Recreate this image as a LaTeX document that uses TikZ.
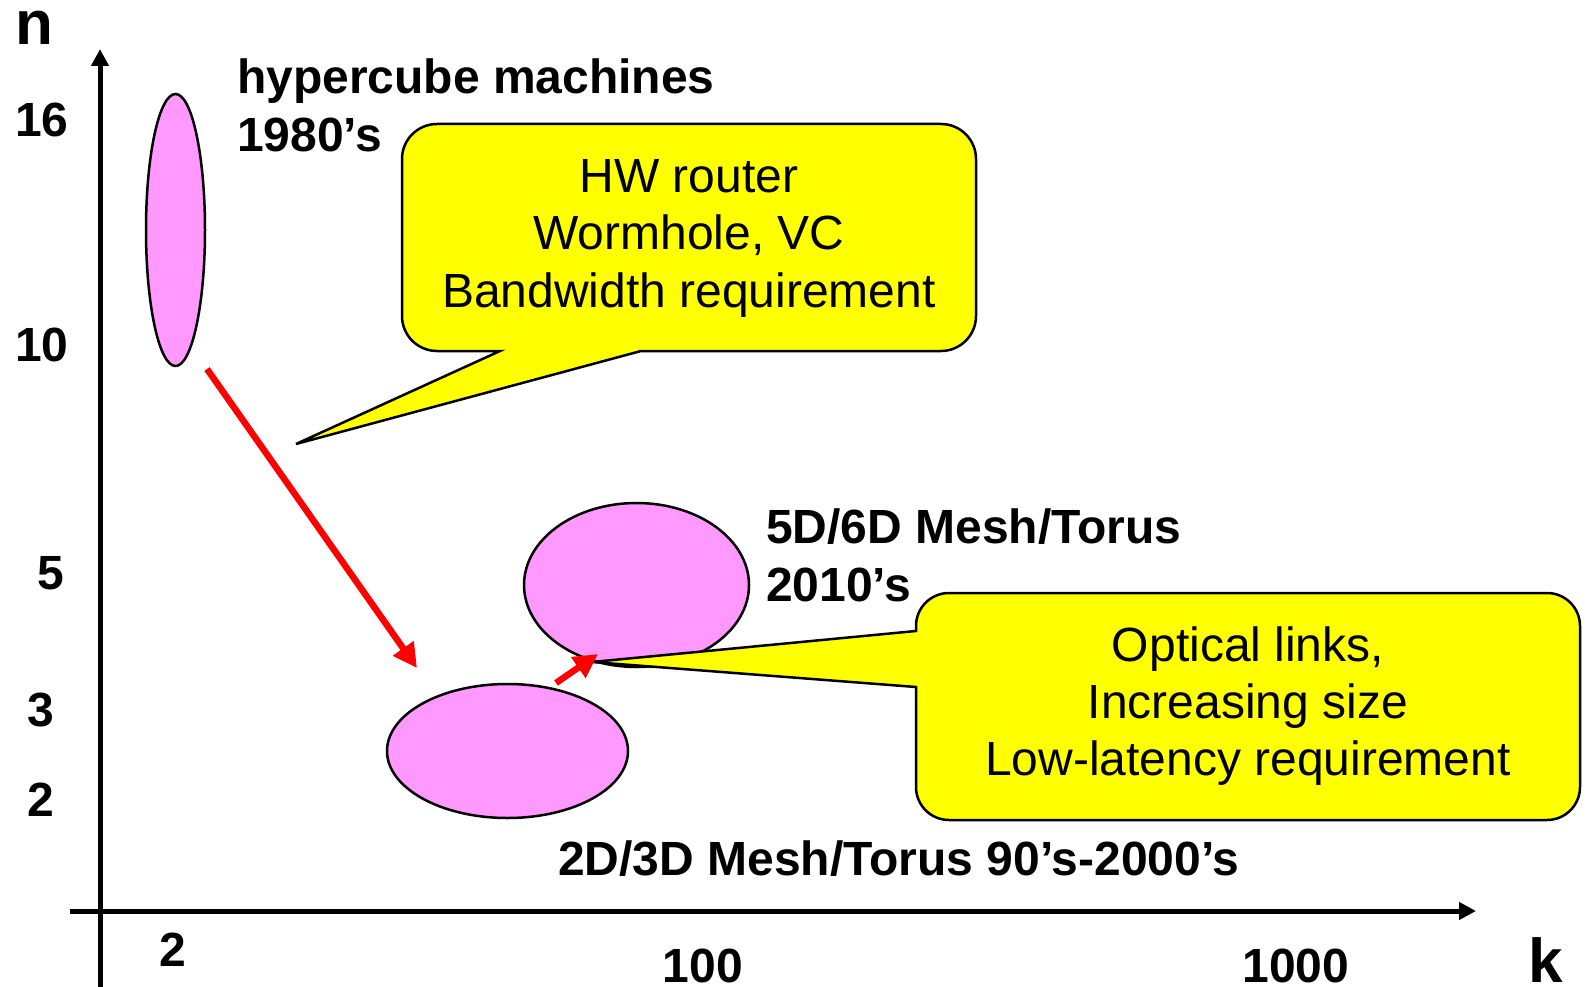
\documentclass[tikz,border=0pt]{standalone}
\usepackage{fontspec}
\setmainfont{Liberation Sans}
\usetikzlibrary{arrows.meta,shapes.geometric}
\definecolor{blobpink}{HTML}{FF99FF}
\definecolor{noteyellow}{HTML}{FFFF00}
\begin{document}
\begin{tikzpicture}[x=1pt,y=-1pt,
  lbl/.style={font=\bfseries\fontsize{48}{58}\selectfont, inner sep=0pt},
  note/.style={font=\fontsize{48}{58}\selectfont, inner sep=0pt},
  axislabel/.style={font=\bfseries\fontsize{62}{70}\selectfont, inner sep=0pt},
  blob/.style={ellipse, draw=black, line width=2.5pt, fill=blobpink, inner sep=0pt},
  axisline/.style={line width=5pt, -{Triangle[length=17pt,width=17pt]}},
  trend/.style={draw=red, line width=6.5pt, -{Triangle[length=24pt,width=24pt]}},
  bubble/.style={draw=black, line width=2.5pt, fill=noteyellow}]

\useasboundingbox (0,0) rectangle (1588,987);

% axes
\coordinate (ybot) at (100,987);
\coordinate (ytop) at (100,49);
\coordinate (xleft) at (70,911);
\coordinate (xright) at (1476,911);
\draw[axisline] (ybot) -- (ytop);
\draw[axisline] (xleft) -- (xright);

\node[axislabel, anchor=base west] (nlab) at (15,45) {n};
\node[axislabel, anchor=base west] (klab) at (1528,982) {k};

% n ticks
\node[lbl, anchor=base west] (n16) at (15,137) {16};
\node[lbl, anchor=base west] (n10) at (15,361) {10};
\node[lbl, anchor=base] (n5) at (51,589) {5};
\node[lbl, anchor=base] (n3) at (40.5,726) {3};
\node[lbl, anchor=base] (n2) at (40.5,816) {2};

% k ticks
\node[lbl, anchor=base] (k2) at (173,966) {2};
\node[lbl, anchor=base] (k100) at (703,982) {100};
\node[lbl, anchor=base] (k1000) at (1296,982) {1000};

% design regions
\node[blob, minimum width=59pt, minimum height=272pt] (hyper) at (175.5,230) {};
\node[blob, minimum width=225pt, minimum height=164pt] (mesh56) at (636.5,585) {};
\node[blob, minimum width=241pt, minimum height=134pt] (mesh23) at (507.5,751) {};

\node[lbl, anchor=base west] (hyperA) at (237,94) {hypercube machines};
\node[lbl, anchor=base west] (hyperB) at (237,152) {1980’s};
\node[lbl, anchor=base west] (m56A) at (766,543) {5D/6D Mesh/Torus};
\node[lbl, anchor=base west] (m56B) at (766,601) {2010’s};
\node[lbl, anchor=base west] (m23) at (558,875) {2D/3D Mesh/Torus 90’s-2000’s};

% callout: router technology
\draw[bubble] (437,124) -- (941,124) arc[start angle=-90,end angle=0,radius=35]
  -- (976,316) arc[start angle=0,end angle=90,radius=35]
  -- (641,351) -- (296,444) -- (500,351)
  -- (437,351) arc[start angle=90,end angle=180,radius=35]
  -- (402,159) arc[start angle=180,end angle=270,radius=35] -- cycle;
\node[note, anchor=base] (r1) at (689,193) {HW router};
\node[note, anchor=base] (r2) at (689,250) {Wormhole, VC};
\node[note, anchor=base] (r3) at (689,307) {Bandwidth requirement};

% callout: future systems
\draw[bubble] (949,593) -- (1547,593) arc[start angle=-90,end angle=0,radius=33]
  -- (1580,787) arc[start angle=0,end angle=90,radius=33]
  -- (949,820) arc[start angle=90,end angle=180,radius=33]
  -- (916,687) -- (592,662) -- (916,631)
  -- (916,626) arc[start angle=180,end angle=270,radius=33] -- cycle;
\node[note, anchor=base] (o1) at (1248,661) {Optical links,};
\node[note, anchor=base] (o2) at (1248,718) {Increasing size};
\node[note, anchor=base] (o3) at (1248,775) {Low-latency requirement};

% trend arrows
\coordinate (t1s) at (207,369);
\coordinate (t1e) at (417,668);
\coordinate (t2s) at (556,683);
\coordinate (t2e) at (598,654);
\draw[trend] (t1s) -- (t1e);
\draw[trend] (t2s) -- (t2e);
\end{tikzpicture}
\end{document}
